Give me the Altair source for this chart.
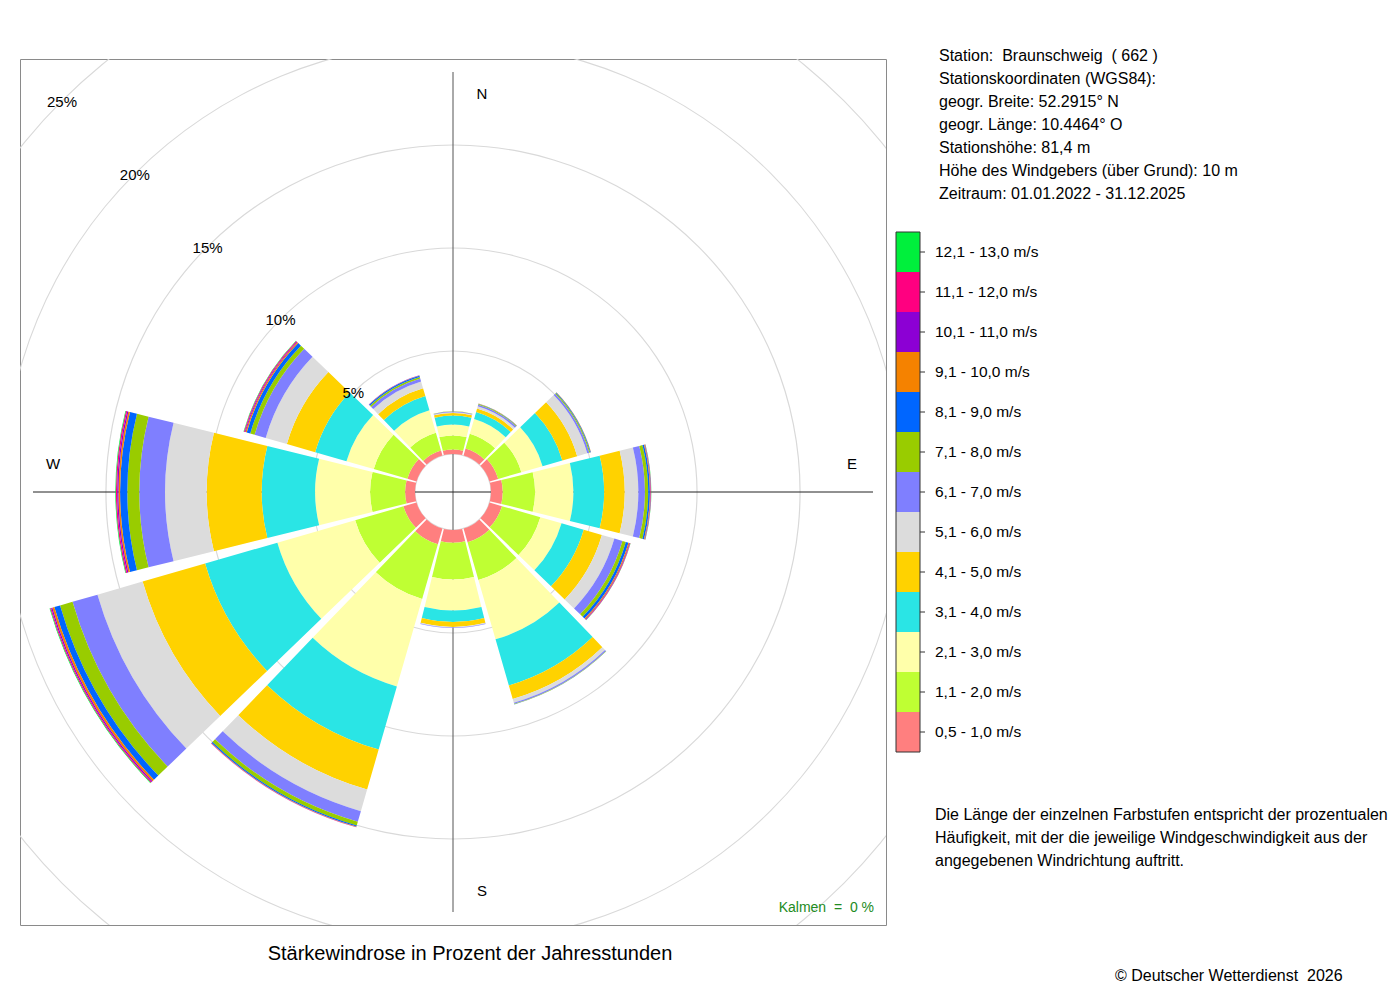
import altair as alt
import pandas as pd
import math

# ---------------- data ----------------
DIRECTIONS = [0, 30, 60, 90, 120, 150, 180, 210, 240, 270, 300, 330]

CLASSES = [
    "0,5 - 1,0 m/s", "1,1 - 2,0 m/s", "2,1 - 3,0 m/s", "3,1 - 4,0 m/s",
    "4,1 - 5,0 m/s", "5,1 - 6,0 m/s", "6,1 - 7,0 m/s", "7,1 - 8,0 m/s",
    "8,1 - 9,0 m/s", "9,1 - 10,0 m/s", "10,1 - 11,0 m/s", "11,1 - 12,0 m/s",
    "12,1 - 13,0 m/s",
]

COLORS = [
    "#FF7F7F", "#BFFF33", "#FFFFAA", "#2AE5E5", "#FFD200", "#DCDCDC",
    "#7F7FFF", "#99CC00", "#0066FF", "#F58200", "#8C00D4", "#FF0080",
    "#00F03C",
]

# frequency (% of hours) per speed class, from the innermost class outwards
DIR_000 = [0.22, 0.68, 0.53, 0.44, 0.12, 0.04, 0.03, 0.01, 0.00, 0.00, 0.00, 0.00, 0.00]
DIR_030 = [0.35, 0.75, 0.75, 0.35, 0.17, 0.12, 0.08, 0.03, 0.02, 0.01, 0.00, 0.00, 0.00]
DIR_060 = [0.44, 1.17, 1.07, 1.00, 0.75, 0.51, 0.10, 0.05, 0.03, 0.01, 0.00, 0.00, 0.00]
DIR_090 = [0.57, 1.57, 1.86, 1.49, 1.00, 0.66, 0.32, 0.16, 0.08, 0.03, 0.02, 0.01, 0.01]
DIR_120 = [0.63, 1.94, 1.07, 1.12, 0.92, 0.63, 0.41, 0.17, 0.13, 0.05, 0.03, 0.02, 0.01]
DIR_150 = [0.70, 1.90, 3.00, 2.33, 0.68, 0.19, 0.06, 0.02, 0.01, 0.00, 0.00, 0.00, 0.00]
DIR_180 = [0.62, 1.78, 1.50, 0.56, 0.24, 0.03, 0.03, 0.00, 0.00, 0.00, 0.00, 0.00, 0.00]
DIR_210 = [0.80, 2.76, 4.42, 3.19, 2.02, 1.09, 0.54, 0.18, 0.06, 0.02, 0.01, 0.01, 0.00]
DIR_240 = [0.66, 2.44, 3.93, 3.65, 3.16, 2.28, 1.26, 0.63, 0.29, 0.10, 0.06, 0.05, 0.03]
DIR_270 = [0.48, 1.70, 2.67, 2.59, 2.67, 2.02, 1.25, 0.58, 0.35, 0.08, 0.06, 0.06, 0.03]
DIR_300 = [0.46, 1.70, 1.38, 1.58, 1.43, 1.07, 0.56, 0.22, 0.18, 0.06, 0.04, 0.04, 0.02]
DIR_330 = [0.25, 0.90, 1.13, 0.72, 0.40, 0.34, 0.15, 0.08, 0.06, 0.01, 0.01, 0.00, 0.00]

FREQS = [DIR_000, DIR_030, DIR_060, DIR_090, DIR_120, DIR_150,
         DIR_180, DIR_210, DIR_240, DIR_270, DIR_300, DIR_330]

GRID_PCT = [0, 5, 10, 15, 20, 25]
LABEL_PCT = [5, 10, 15, 20, 25]

NB = "\u00a0"
INFO_LINES = [
    f"Station:{NB} Braunschweig{NB} ( 662 )",
    "Stationskoordinaten (WGS84):",
    "geogr. Breite: 52.2915° N",
    "geogr. Länge: 10.4464° O",
    "Stationshöhe: 81,4 m",
    "Höhe des Windgebers (über Grund): 10 m",
    "Zeitraum: 01.01.2022 - 31.12.2025",
]
NOTE_LINES = [
    "Die Länge der einzelnen Farbstufen entspricht der prozentualen",
    "Häufigkeit, mit der die jeweilige Windgeschwindigkeit aus der",
    "angegebenen Windrichtung auftritt.",
]
TITLE = "Stärkewindrose in Prozent der Jahresstunden"
CALM = f"Kalmen{NB} ={NB} 0 %"
COPYRIGHT = f"© Deutscher Wetterdienst{NB} 2026"

# ---------------- tables ----------------
HALF = 13.9  # half opening angle of a sector (degrees)
rows = []
for d, freq in zip(DIRECTIONS, FREQS):
    cum = 0.0
    for cls, v in zip(CLASSES, freq):
        if v > 0:
            rows.append({"dir": d, "cls": cls, "val": v,
                         "r0": cum, "r1": cum + v,
                         "t0": d - HALF, "t1": d + HALF})
        cum += v
df = pd.DataFrame(rows)
RING = 0.026  # half thickness of a grid ring, in % units (~0.5 px)
grid = pd.DataFrame({"pct": GRID_PCT})
grid["p_in"] = grid["pct"] - RING
grid["p_out"] = grid["pct"] + RING
lbl = pd.DataFrame({"pct": LABEL_PCT, "lab": [f"{p}%" for p in LABEL_PCT]})
leg = pd.DataFrame({"cls": CLASSES})
one = pd.DataFrame({"k": [0]})

FONT = "Liberation Sans"
W = H = 866

theta_scale = alt.Scale(type="linear", domain=[0, 360], range=[0, 2 * math.pi])
radius_scale = alt.Scale(type="linear", domain=[0, 25], range=[38, 553])
color_scale = alt.Scale(domain=CLASSES, range=COLORS)
leg_y = alt.Scale(type="band", domain=CLASSES[::-1], range=[173, 693],
                  paddingInner=0, paddingOuter=0)

grid_layer = alt.Chart(grid).mark_arc(color="#D9D9D9", clip=True).encode(
    theta=alt.datum(0, scale=theta_scale),
    theta2=alt.datum(360),
    radius=alt.Radius("p_out:Q", scale=radius_scale),
    radius2="p_in:Q",
)

vline = alt.Chart(one).mark_rule(color="#555555", strokeWidth=1).encode(
    x=alt.value(433), y=alt.value(13), y2=alt.value(853))
hline = alt.Chart(one).mark_rule(color="#222222", strokeWidth=1).encode(
    x=alt.value(13), x2=alt.value(853), y=alt.value(433))

arcs = alt.Chart(df).mark_arc(strokeWidth=0).encode(
    theta=alt.Theta("t0:Q", scale=theta_scale, stack=None),
    theta2="t1:Q",
    radius=alt.Radius("r1:Q", scale=radius_scale, stack=None),
    radius2="r0:Q",
    color=alt.Color("cls:N", scale=color_scale, legend=None),
)

pct_labels = alt.Chart(lbl).mark_text(font=FONT, fontSize=15, color="black", dy=1).encode(
    theta=alt.datum(315, scale=theta_scale),
    radius=alt.Radius("pct:Q", scale=radius_scale),
    text="lab:N",
)

def txt(s, x, y, size=15, align="center", color="black", baseline="middle", **kw):
    return alt.Chart(one).mark_text(
        font=FONT, fontSize=size, align=align, baseline=baseline, color=color,
        fontWeight="normal", **kw
    ).encode(x=alt.value(x), y=alt.value(y), text=alt.value(s))

dir_labels = [
    txt("N", 462, 35), txt("S", 462, 832), txt("W", 33, 405), txt("E", 832, 405),
]

calm = txt(CALM, 854, 849, size=14, align="right", color="#228B22")
title = txt(TITLE, 450, 895, size=20)
info = txt("\n".join(INFO_LINES), 919, 1.5, size=16, align="left",
           baseline="alphabetic", lineBreak="\n", lineHeight=23.15)
note = txt("\n".join(NOTE_LINES), 915, 760.5, size=16, align="left",
           baseline="alphabetic", lineBreak="\n", lineHeight=23)
copy = txt(COPYRIGHT, 1095, 917, size=16, align="left")

leg_rect = alt.Chart(leg).mark_rect().encode(
    x=alt.value(876), x2=alt.value(900),
    y=alt.Y("cls:N", scale=leg_y, axis=None),
    color=alt.Color("cls:N", scale=color_scale, legend=None),
)
leg_tick = alt.Chart(leg).mark_rule(color="#333333").encode(
    x=alt.value(900), x2=alt.value(905),
    y=alt.Y("cls:N", scale=leg_y, axis=None, bandPosition=0.5),
)
leg_text = alt.Chart(leg).mark_text(font=FONT, fontSize=15.5, align="left",
                                    baseline="middle", color="black").encode(
    x=alt.value(915),
    y=alt.Y("cls:N", scale=leg_y, axis=None, bandPosition=0.5),
    text="cls:N",
)
leg_border = alt.Chart(one).mark_rect(fill=None, stroke="#333333", strokeWidth=1).encode(
    x=alt.value(876), x2=alt.value(900), y=alt.value(173), y2=alt.value(693))

chart = alt.layer(
    grid_layer, vline, hline, arcs, pct_labels, *dir_labels, calm, title,
    info, note, copy, leg_rect, leg_tick, leg_text, leg_border,
).properties(
    width=W, height=H,
    padding={"left": 12, "top": 51, "right": 506, "bottom": 67},
    autosize=alt.AutoSizeParams(type="none"),
).configure_view(stroke="#8A8A8A", strokeWidth=1)

chart.save("out.html", embed_options={"renderer": "svg", "actions": False})
